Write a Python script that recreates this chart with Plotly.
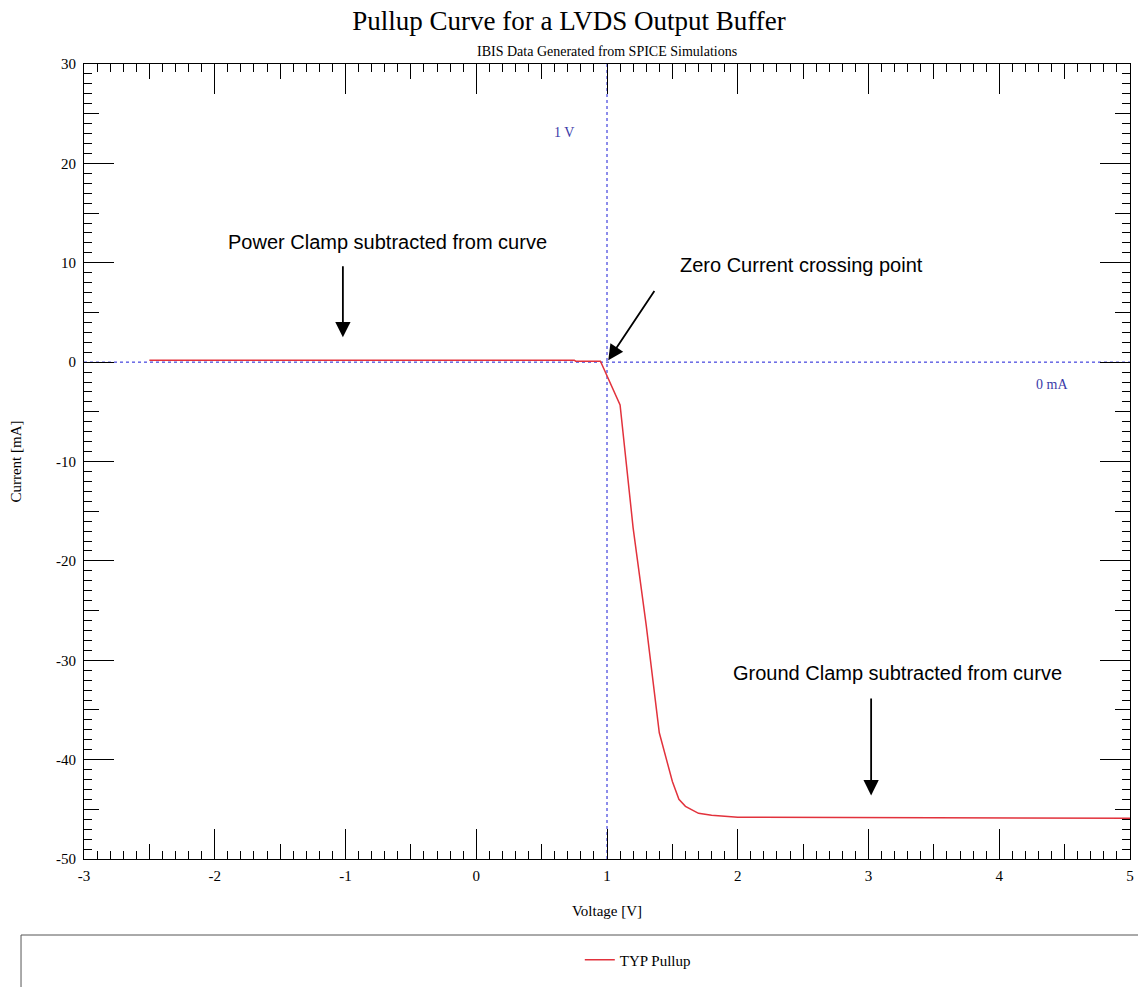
import plotly.graph_objects as go

# ---------------- data ----------------
voltage = [-2.5, 0.75, 0.76, 0.95, 1.1, 1.2, 1.3, 1.4, 1.5, 1.55, 1.6, 1.7, 1.8, 2.0, 5.0]
current = [0.2, 0.2, 0.1, 0.1, -4.3, -16.7, -26.5, -37.3, -42.2, -44.0, -44.7, -45.4, -45.6, -45.8, -45.9]
series_name = "TYP Pullup"

x_tick_vals = [-3, -2, -1, 0, 1, 2, 3, 4, 5]
x_tick_text = ["-3", "-2", "-1", "0", "1", "2", "3", "4", "5"]
y_tick_vals = [-50, -40, -30, -20, -10, 0, 10, 20, 30]
y_tick_text = ["-50", "-40", "-30", "-20", "-10", "0", "10", "20", "30"]

x_range = [-3, 5]
y_range = [-50, 30]
ref_voltage = 1.0
ref_current = 0.0
ref_labels = [("1 V", 0.67, 23.1), ("0 mA", 4.40, -2.3)]

# annotation texts: (text, text_x, text_y)
notes = [
    ("Power Clamp subtracted from curve", -0.675, 12.1),
    ("Zero Current crossing point", 2.49, 9.8),
    ("Ground Clamp subtracted from curve", 3.22, -31.3),
]
# arrows: (head_x, head_y, tail_x, tail_y)
arrows = [
    (-1.02, 2.5, -1.02, 9.8),
    (1.01, 0.2, 1.37, 7.3),
    (3.02, -43.6, 3.02, -33.7),
]

SERIF = "Liberation Serif, Times New Roman, serif"
SANS = "Liberation Sans, Arial, sans-serif"
BLUE_LINE = "#1a1ad6"
BLUE_TEXT = "#3a3aa8"
RED = "#e2323c"

FIG_W, FIG_H = 1138, 987

fig = go.Figure()
fig.add_trace(go.Scatter(x=voltage, y=current, mode="lines", name=series_name,
                         line=dict(color=RED, width=1.5)))
# helper trace on overlay axes (carries the medium ticks)
fig.add_trace(go.Scatter(x=[], y=[], xaxis="x2", yaxis="y2", showlegend=False,
                         hoverinfo="skip"))

# reference lines
fig.add_shape(type="line", xref="x", yref="paper", x0=ref_voltage, x1=ref_voltage, y0=0, y1=1,
              line=dict(color=BLUE_LINE, width=1, dash="3px,3px"), layer="below")
fig.add_shape(type="line", xref="paper", yref="y", x0=0, x1=1, y0=ref_current, y1=ref_current,
              line=dict(color=BLUE_LINE, width=1, dash="3px,3px"), layer="below")
for txt, lx, ly in ref_labels:
    fig.add_annotation(x=lx, y=ly, text=txt, showarrow=False,
                       font=dict(family=SERIF, size=14, color=BLUE_TEXT))

for txt, tx, ty in notes:
    fig.add_annotation(x=tx, y=ty, text=txt, showarrow=False,
                       font=dict(family=SANS, size=20, color="#000000"))
for hx, hy, tx, ty in arrows:
    fig.add_annotation(x=hx, y=hy, ax=tx, ay=ty, axref="x", ayref="y", text="",
                       showarrow=True, arrowhead=2, arrowsize=1.7, arrowwidth=1.8,
                       arrowcolor="#000000")

# subtitle
fig.add_annotation(xref="paper", yref="paper", x=0.5, y=1.0151, yanchor="middle",
                   text="IBIS Data Generated from SPICE Simulations", showarrow=False,
                   font=dict(family=SERIF, size=14, color="#000000"))

# legend frame
fig.add_shape(type="rect", xref="paper", yref="paper", x0=-0.0602, x1=1.02, y0=-0.17, y1=-0.0956,
              line=dict(color="#555555", width=1), fillcolor="rgba(0,0,0,0)")

axis_common = dict(showgrid=False, zeroline=False, showline=True, linecolor="#000000",
                   linewidth=1, ticks="inside", tickcolor="#000000", tickwidth=1,
                   mirror="ticks", automargin=False)

fig.update_layout(
    width=FIG_W, height=FIG_H,
    margin=dict(l=84, r=8, t=64, b=128),
    paper_bgcolor="#ffffff", plot_bgcolor="#ffffff",
    title=dict(text="Pullup Curve for a LVDS Output Buffer", x=0.5, xanchor="center",
               xref="container", y=1 - 21 / FIG_H, yref="container", yanchor="middle",
               font=dict(family=SERIF, size=27, color="#000000")),
    xaxis=dict(range=x_range, tickmode="array", tickvals=x_tick_vals, ticktext=x_tick_text,
               ticklen=30, ticklabelstandoff=3,
               minor=dict(dtick=0.1, ticklen=8, ticks="inside", tickcolor="#000000"),
               tickfont=dict(family=SERIF, size=15, color="#000000"),
               title=dict(text="Voltage [V]", standoff=22,
                          font=dict(family=SERIF, size=15, color="#000000")),
               **axis_common),
    yaxis=dict(range=y_range, tickmode="array", tickvals=y_tick_vals, ticktext=y_tick_text,
               ticklen=30, ticklabelstandoff=4,
               minor=dict(dtick=1, ticklen=8, ticks="inside", tickcolor="#000000"),
               tickfont=dict(family=SERIF, size=15, color="#000000"),
               title=dict(text="Current [mA]", standoff=30,
                          font=dict(family=SERIF, size=15, color="#000000")),
               **axis_common),
    xaxis2=dict(range=x_range, dtick=0.5, ticklen=15, overlaying="x", anchor="y2",
                showticklabels=False, **axis_common),
    yaxis2=dict(range=y_range, dtick=5, ticklen=15, overlaying="y", anchor="x2",
                showticklabels=False, **axis_common),
    showlegend=True,
    legend=dict(x=0.474, y=-0.127, xanchor="left", yanchor="middle",
                bgcolor="rgba(0,0,0,0)", borderwidth=0,
                font=dict(family=SERIF, size=15, color="#000000")),
)

# remove the default 8px page margin so the figure fills the window exactly
fig.write_html("out.html",
               config={"displayModeBar": False},
               post_script="document.body.style.margin='0';document.body.style.overflow='hidden';")
